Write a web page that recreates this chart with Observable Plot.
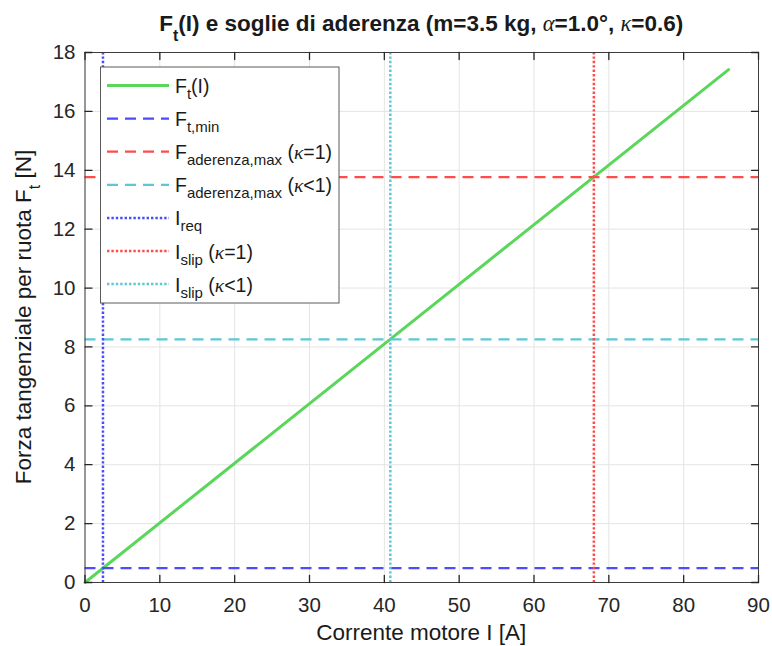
<!DOCTYPE html>
<html><head><meta charset="utf-8">
<script src="https://cdn.jsdelivr.net/npm/d3@7"></script>
<script src="https://cdn.jsdelivr.net/npm/@observablehq/plot@0.6"></script>
<style>
body{margin:0;background:#fff;}
#chart{position:relative;width:772px;height:646px;}
</style>
</head><body><div id="chart"></div>
<script>
// ---- data ----
const currentA = [0, 86];            // motor current I [A]
const forceN = [0, 17.42];           // tangential force F_t [N]
const forceThresholds = [0.49, 13.77, 8.26];   // F_t,min, F_ad,max(k=1), F_ad,max(k<1)
const currentThresholds = [2.4, 68.0, 40.8];   // I_req, I_slip(k=1), I_slip(k<1)
const xTicks = [0, 10, 20, 30, 40, 50, 60, 70, 80, 90];
const yTicks = [0, 2, 4, 6, 8, 10, 12, 14, 16, 18];
const xDomain = [0, 90];
const yDomain = [0, 18];

// ---- styles ----
const GREEN = "#5ad75a", BLUE = "#4b4bff", RED = "#ff4b4b", CYAN = "#5ec7d6";
const DASH = "11,7", DOT = "2.4,2";
const W = 772, H = 646, mL = 84.5, mR = 14, mT = 52, mB = 64;
const AX = "#262626";

const tickShape = {draw(ctx, l) { ctx.moveTo(0, 0); ctx.lineTo(0, -l); }};
const tickOpts = {length: 7, anchor: "start", shape: tickShape, stroke: AX, strokeWidth: 1.3};

const plot = Plot.plot({
  width: W, height: H,
  marginLeft: mL, marginRight: mR, marginTop: mT, marginBottom: mB,
  style: {fontFamily: "'Liberation Sans', Arial, Helvetica, sans-serif", color: AX, background: "#fff", overflow: "visible"},
  x: {domain: xDomain},
  y: {domain: yDomain},
  marks: [
    Plot.gridX(xTicks, {stroke: "#e4e4e4", strokeOpacity: 1}),
    Plot.gridY(yTicks, {stroke: "#e4e4e4", strokeOpacity: 1}),
    Plot.line(currentA, {x: currentA, y: forceN, stroke: GREEN, strokeWidth: 3}),
    Plot.ruleY([forceThresholds[0]], {y: d => d, stroke: BLUE, strokeWidth: 2.3, strokeDasharray: DASH}),
    Plot.ruleY([forceThresholds[1]], {y: d => d, stroke: RED, strokeWidth: 2.3, strokeDasharray: DASH}),
    Plot.ruleY([forceThresholds[2]], {y: d => d, stroke: CYAN, strokeWidth: 2.3, strokeDasharray: DASH}),
    Plot.ruleX([currentThresholds[0]], {x: d => d, stroke: BLUE, strokeWidth: 2.5, strokeDasharray: DOT}),
    Plot.ruleX([currentThresholds[1]], {x: d => d, stroke: RED, strokeWidth: 2.5, strokeDasharray: DOT}),
    Plot.ruleX([currentThresholds[2]], {x: d => d, stroke: CYAN, strokeWidth: 2.5, strokeDasharray: DOT}),
    Plot.frame({stroke: "#3c3c3c", strokeWidth: 1}),
    Plot.vector(xTicks, {x: d => d, y: () => yDomain[0], rotate: 0, ...tickOpts}),
    Plot.vector(xTicks, {x: d => d, y: () => yDomain[1], rotate: 180, ...tickOpts}),
    Plot.vector(yTicks, {y: d => d, x: () => xDomain[0], rotate: 90, ...tickOpts}),
    Plot.vector(yTicks, {y: d => d, x: () => xDomain[1], rotate: 270, ...tickOpts}),
    Plot.axisX(xTicks, {tickSize: 0, tickPadding: 15, fontSize: 20.5, label: null}),
    Plot.axisY(yTicks, {tickSize: 0, tickPadding: 9.5, fontSize: 20.5, label: null})
  ]
});
document.getElementById("chart").appendChild(plot);

// ---- rich text overlays ----
const svg = d3.select(plot);
function rich(parent, segs, {x = 0, y = 0, size, subSize, shift, anchor = "start", weight = "normal", transform = null}) {
  const t = parent.append("text")
    .attr("x", x).attr("y", y)
    .attr("text-anchor", anchor)
    .attr("font-size", size)
    .attr("font-weight", weight)
    .attr("fill", "#1a1a1a")
    .attr("font-family", "'Liberation Sans', Arial, Helvetica, sans-serif");
  if (transform) t.attr("transform", transform);
  let down = 0;
  for (const s of segs) {
    const ts = t.append("tspan").text(s.t);
    if (s.sub) {
      ts.attr("font-size", subSize).attr("dy", shift - down);
      down = shift;
    } else {
      ts.attr("dy", -down);
      down = 0;
    }
    if (s.it) ts.attr("font-style", "italic").attr("font-weight", "normal").attr("font-family", "'Liberation Serif', 'Times New Roman', serif");
  }
  return t;
}

const cx = mL + (W - mL - mR) / 2;
// title
rich(svg, [{t: "F"}, {t: "t", sub: true}, {t: "(I) e soglie di aderenza (m=3.5 kg, "}, {t: "α", it: true}, {t: "=1.0°, "}, {t: "κ", it: true}, {t: "=0.6)"}],
  {x: cx, y: 31, size: 22.5, subSize: 16, shift: 10, anchor: "middle", weight: "bold"});
// x label
rich(svg, [{t: "Corrente motore I [A]"}], {x: cx, y: 640, size: 22.5, anchor: "middle"});
// y label
rich(svg, [{t: "Forza tangenziale per ruota F"}, {t: "t", sub: true}, {t: " [N]"}],
  {size: 22.5, subSize: 16, shift: 9, anchor: "middle", transform: `translate(31,${mT + (H - mT - mB) / 2}) rotate(-90)`});

// legend
const leg = svg.append("g");
leg.append("rect").attr("x", 100.5).attr("y", 67).attr("width", 238.5).attr("height", 236)
  .attr("fill", "#fff").attr("stroke", "#5a5a5a").attr("stroke-width", 1);
const items = [
  {segs: [{t: "F"}, {t: "t", sub: true}, {t: "(I)"}], stroke: GREEN, dash: null, w: 3},
  {segs: [{t: "F"}, {t: "t,min", sub: true}], stroke: BLUE, dash: DASH, w: 2.3},
  {segs: [{t: "F"}, {t: "aderenza,max", sub: true}, {t: " ("}, {t: "κ", it: true}, {t: "=1)"}], stroke: RED, dash: DASH, w: 2.3},
  {segs: [{t: "F"}, {t: "aderenza,max", sub: true}, {t: " ("}, {t: "κ", it: true}, {t: "<1)"}], stroke: CYAN, dash: DASH, w: 2.3},
  {segs: [{t: "I"}, {t: "req", sub: true}], stroke: BLUE, dash: DOT, w: 2.5},
  {segs: [{t: "I"}, {t: "slip", sub: true}, {t: " ("}, {t: "κ", it: true}, {t: "=1)"}], stroke: RED, dash: DOT, w: 2.5},
  {segs: [{t: "I"}, {t: "slip", sub: true}, {t: " ("}, {t: "κ", it: true}, {t: "<1)"}], stroke: CYAN, dash: DOT, w: 2.5}
];
items.forEach((it, i) => {
  const yy = 85.5 + i * 33.1;
  const ln = leg.append("line").attr("x1", 107).attr("x2", 169).attr("y1", yy).attr("y2", yy)
    .attr("stroke", it.stroke).attr("stroke-width", it.w);
  if (it.dash) ln.attr("stroke-dasharray", it.dash);
  rich(leg, it.segs, {x: 175, y: yy + 7.5, size: 19.5, subSize: 15, shift: 6});
});
</script>
</body></html>
